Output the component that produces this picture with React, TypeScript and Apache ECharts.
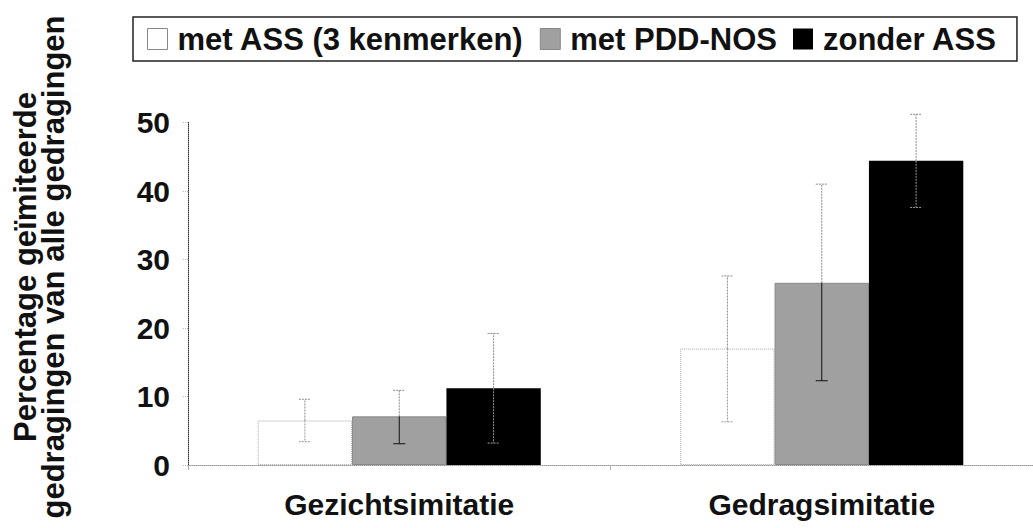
import React, { useEffect, useRef } from "react";
import * as echarts from "echarts";

const categories = ["Gezichtsimitatie", "Gedragsimitatie"];
const seriesNames = ["met ASS (3 kenmerken)", "met PDD-NOS", "zonder ASS"];
const meanASS = [6.5, 17.0];
const meanPDD = [7.1, 26.6];
const meanZonder = [11.2, 44.4];
const lowASS = [3.4, 6.3];
const highASS = [9.6, 27.6];
const lowPDD = [3.1, 12.3];
const highPDD = [10.9, 41.0];
const lowZonder = [3.2, 37.6];
const highZonder = [19.2, 51.2];
const yTicks = [0, 10, 20, 30, 40, 50];
const yAxisTitle = "Percentage geïmiteerde\ngedragingen van alle gedragingen";

const FONT = "'Liberation Sans', Arial, Helvetica, sans-serif";
const GAP = 0.33;

export default function App() {
  const ref = useRef<HTMLDivElement>(null);
  useEffect(() => {
    document.body.style.margin = "0";
    const chart = echarts.init(ref.current!, null, { renderer: "svg" });

    const errSeries = (idx: number, lows: number[], highs: number[], means: number[], lowColor: string) => ({
      type: "custom",
      name: "err" + idx,
      silent: true,
      clip: false,
      z: 5,
      data: categories.map((_, i) => [i, lows[i], highs[i], means[i]]),
      encode: { x: 0, y: [1, 2] },
      renderItem: (params: any, api: any) => {
        const cat = api.value(0);
        const lo = api.value(1);
        const hi = api.value(2);
        const mean = api.value(3);
        const band = api.size([1, 0])[0];
        const barW = (band * (1 - GAP)) / 3;
        const c = api.coord([cat, mean]);
        const x = c[0] + (idx - 1) * barW;
        const yM = c[1];
        const yH = api.coord([cat, hi])[1];
        const yL = api.coord([cat, lo])[1];
        const cap = 6;
        const up = { stroke: "#8a8a8a", lineWidth: 1, lineDash: [2, 1] };
        const dn = { stroke: lowColor, lineWidth: 1, lineDash: lowColor === "#111" ? null : [2, 1] };
        return {
          type: "group",
          children: [
            { type: "line", shape: { x1: x, y1: yM, x2: x, y2: yH }, style: up },
            { type: "line", shape: { x1: x - cap, y1: yH, x2: x + cap, y2: yH }, style: up },
            { type: "line", shape: { x1: x, y1: yM, x2: x, y2: yL }, style: dn },
            { type: "line", shape: { x1: x - cap, y1: yL, x2: x + cap, y2: yL }, style: dn },
          ],
        };
      },
    });

    chart.setOption({
      animation: false,
      textStyle: { fontFamily: FONT },
      grid: { left: 188, right: -6, top: 122.5, bottom: 63 },
      legend: {
        data: [
          { name: seriesNames[0], itemStyle: { color: "#fff", borderColor: "#888", borderWidth: 1, borderType: "solid" } },
          { name: seriesNames[1], itemStyle: { color: "#a0a0a0", borderColor: "#888", borderWidth: 1 } },
          { name: seriesNames[2], itemStyle: { color: "#000" } },
        ],
        left: 133,
        top: 17,
        orient: "horizontal",
        icon: "rect",
        itemWidth: 20,
        itemHeight: 21,
        itemGap: 16,
        borderColor: "#222",
        borderWidth: 1.5,
        padding: [6, 20, 6, 14],
        textStyle: {
          fontFamily: FONT,
          fontWeight: "bold",
          fontSize: 31,
          lineHeight: 32,
          color: "#111",
          padding: [0, 0, 0, 5],
        },
      },
      xAxis: {
        type: "category",
        data: categories,
        axisLine: { lineStyle: { color: "#999", type: "dotted", width: 1 } },
        axisTick: { show: true, length: 5, lineStyle: { color: "#aaa" } },
        axisLabel: {
          fontFamily: FONT,
          fontWeight: "bold",
          fontSize: 30,
          color: "#111",
          margin: 24,
        },
      },
      yAxis: {
        type: "value",
        min: yTicks[0],
        max: yTicks[yTicks.length - 1],
        interval: 10,
        splitLine: { show: false },
        axisLine: { show: true, lineStyle: { color: "#333", type: "dotted", width: 1 } },
        axisTick: { show: true, length: 6, lineStyle: { color: "#bbb", type: "dotted" } },
        axisLabel: {
          fontFamily: FONT,
          fontWeight: "bold",
          fontSize: 30,
          color: "#111",
          margin: 18,
        },
      },
      graphic: [
        {
          type: "text",
          x: 39,
          y: 267,
          rotation: Math.PI / 2,
          style: {
            text: yAxisTitle,
            fontFamily: FONT,
            fontWeight: "bold",
            fontSize: 31,
            lineHeight: 28,
            align: "center",
            verticalAlign: "middle",
            fill: "#111",
          },
        },
      ],
      series: [
        {
          type: "bar",
          name: seriesNames[0],
          data: meanASS,
          barGap: "0%",
          barCategoryGap: GAP * 100 + "%",
          itemStyle: { color: "#fff", borderColor: "#aaa", borderWidth: 1, borderType: "dotted" },
        },
        {
          type: "bar",
          name: seriesNames[1],
          data: meanPDD,
          barGap: "0%",
          barCategoryGap: GAP * 100 + "%",
          itemStyle: { color: "#a0a0a0", borderColor: "#888", borderWidth: 1 },
        },
        {
          type: "bar",
          name: seriesNames[2],
          data: meanZonder,
          barGap: "0%",
          barCategoryGap: GAP * 100 + "%",
          itemStyle: { color: "#000" },
        },
        errSeries(0, lowASS, highASS, meanASS, "#999"),
        errSeries(1, lowPDD, highPDD, meanPDD, "#111"),
        errSeries(2, lowZonder, highZonder, meanZonder, "#999"),
      ],
    });
    return () => chart.dispose();
  }, []);
  return <div ref={ref} style={{ width: 1033, height: 528 }} />;
}
